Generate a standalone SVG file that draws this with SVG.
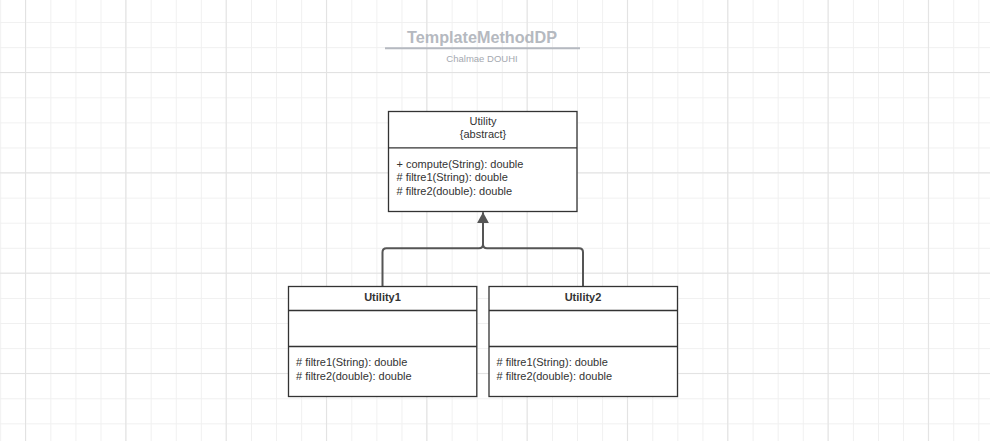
<svg xmlns="http://www.w3.org/2000/svg" width="990" height="441" viewBox="0 0 990 441">
<defs>
<pattern id="minor" patternUnits="userSpaceOnUse" x="0.2" y="-3" width="25.08" height="25.08">
<path d="M0.5 0V25.08M0 0.5H25.08" fill="none" stroke="#f0f0f0" stroke-width="1"/>
</pattern>
<pattern id="major" patternUnits="userSpaceOnUse" x="25" y="72" width="100.32" height="100.32">
<path d="M0.5 0V100.32M0 0.5H100.32" fill="none" stroke="#e2e2e2" stroke-width="1"/>
</pattern>
<marker id="tri" markerWidth="12" markerHeight="12" viewBox="0 0 12 12" refX="11" refY="6" orient="auto" markerUnits="userSpaceOnUse">
<path d="M0 0L11 6L0 12Z" fill="#555555"/>
</marker>
<style>
.box{fill:#ffffff;stroke:#333333;stroke-width:1.3}
.div{stroke:#333333;stroke-width:1.3;fill:none}
.t{font-family:"Liberation Sans",Arial,sans-serif;font-size:11px;fill:#333333}
.c{text-anchor:middle}
.b{font-weight:bold}
.conn{fill:none;stroke:#555555;stroke-width:2}
</style>
</defs>
<rect width="990" height="441" fill="#ffffff"/>
<rect width="990" height="441" fill="url(#minor)"/>
<rect width="990" height="441" fill="url(#major)"/>

<g id="title">
<text x="482" y="43" text-anchor="middle" font-family="Liberation Sans,Arial,sans-serif" font-size="16.2" font-weight="bold" fill="#b5b9c0">TemplateMethodDP</text>
<line x1="385" y1="48.3" x2="580" y2="48.3" stroke="#b5b9c0" stroke-width="2"/>
<text x="482" y="61.5" text-anchor="middle" font-family="Liberation Sans,Arial,sans-serif" font-size="9.5" fill="#a5a9b0">Chalmae DOUHI</text>
</g>

<g id="connectors">
<path class="conn" d="M382.5 286V252.3Q382.5 248.3 386.5 248.3H479Q483 248.3 483 244.3V212.2" marker-end="url(#tri)"/>
<path class="conn" d="M583 286V252.3Q583 248.3 579 248.3H487Q483 248.3 483 244.3"/>
</g>

<g id="Utility">
<rect class="box" x="388.5" y="111.5" width="188.5" height="100"/>
<line class="div" x1="388.5" y1="147.8" x2="577" y2="147.8"/>
<text class="t c" x="483" y="125">Utility</text>
<text class="t c" x="483" y="138">{abstract}</text>
<text class="t" x="396.5" y="168">+ compute(String): double</text>
<text class="t" x="396.5" y="181.3">#  filtre1(String): double</text>
<text class="t" x="396.5" y="194.6">#  filtre2(double): double</text>
</g>

<g id="Utility1">
<rect class="box" x="288.5" y="286.5" width="188.3" height="110"/>
<line class="div" x1="288.5" y1="310.5" x2="476.8" y2="310.5"/>
<line class="div" x1="288.5" y1="346.5" x2="476.8" y2="346.5"/>
<text class="t c b" x="382.5" y="301">Utility1</text>
<text class="t" x="296" y="366">#  filtre1(String): double</text>
<text class="t" x="296" y="379.5">#  filtre2(double): double</text>
</g>

<g id="Utility2">
<rect class="box" x="489" y="286.5" width="188.5" height="110"/>
<line class="div" x1="489" y1="310.5" x2="677.5" y2="310.5"/>
<line class="div" x1="489" y1="346.5" x2="677.5" y2="346.5"/>
<text class="t c b" x="583" y="301">Utility2</text>
<text class="t" x="496.5" y="366">#  filtre1(String): double</text>
<text class="t" x="496.5" y="379.5">#  filtre2(double): double</text>
</g>
</svg>
